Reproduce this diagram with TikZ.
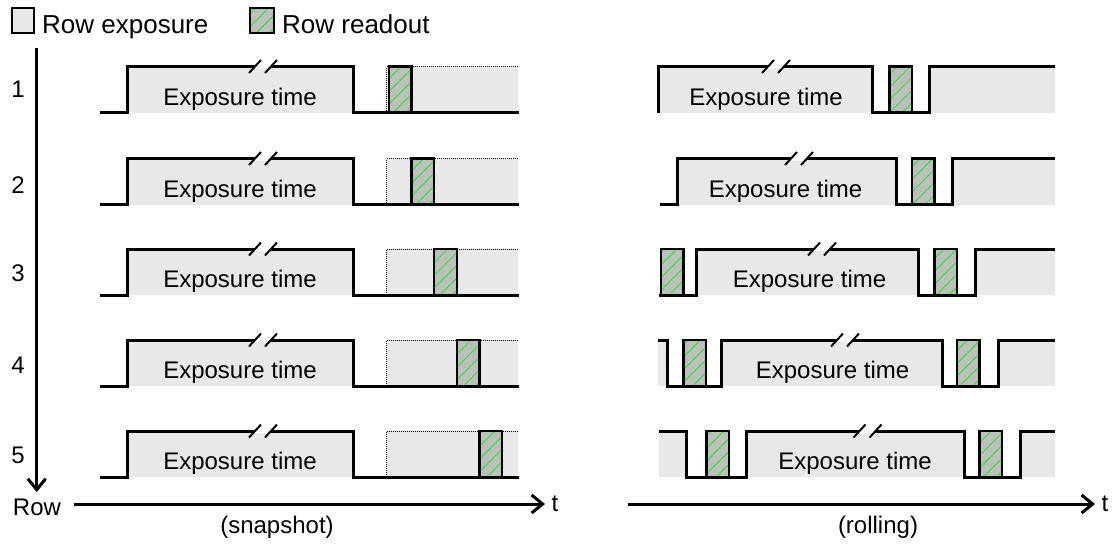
\documentclass[tikz,border=0pt]{standalone}
\usepackage{fontspec}
\setmainfont{Liberation Sans}
\usetikzlibrary{arrows.meta,patterns.meta}
\definecolor{expoGray}{RGB}{232,232,232}
\definecolor{readGray}{RGB}{190,190,190}
\definecolor{hatchGreen}{RGB}{40,235,40}

\begin{document}
\begin{tikzpicture}[x=1pt,y=-1pt]
  \tikzstyle{every node}=[font=\fontsize{24}{28}\selectfont, inner sep=0pt]
  \tikzstyle{legend}=[anchor=base west, font=\fontsize{26}{30}\selectfont]
  \tikzstyle{wave}=[line width=3pt, line join=miter]
  \tikzstyle{expo}=[fill=expoGray]
  \tikzstyle{readbox}=[preaction={fill=readGray}, pattern={Lines[angle=45,distance=9pt,line width=1pt]}, pattern color=hatchGreen, draw=black, line width=2.5pt]
  \tikzstyle{window}=[densely dotted, line width=1pt]
  \tikzstyle{axis}=[line width=3pt, -{Straight Barb[length=11pt,width=18pt]}]
  \tikzset{brk/.pic={
      \fill[white] (-9.85,2) -- (-6.15,-2) -- (9.85,-2) -- (6.15,2) -- cycle;
      \draw[line width=2pt] (-14,6.5) -- (-2,-6.5) (2,6.5) -- (14,-6.5);
  }}
  \useasboundingbox (0,0) rectangle (1115,544);

  % legend
  \draw[expo, draw=black, line width=2pt] (12,8) rectangle (34,33);
  \node[legend] (lgExp) at (42,33) {Row exposure};
  \draw[readbox, line width=2pt] (250,8) rectangle (274,33);
  \node[legend] (lgRead) at (282,33) {Row readout};

  % axes
  \coordinate (rowTop) at (36.7,48);
  \coordinate (rowEnd) at (36.7,492);
  \draw[axis] (rowTop) -- (rowEnd);
  \node (rowLbl) at (37,507) {Row};
  \foreach \r/\y in {1/89,2/185,3/273,4/365,5/455}
    \node (rl\r) at (18,\y) {\r};

  \coordinate (snapT0) at (74,504);
  \coordinate (snapT1) at (545,504);
  \draw[axis] (snapT0) -- (snapT1);
  \node[anchor=west, xshift=6.5pt] (snapT) at (snapT1) {t};
  \node (snapCap) at (277,527) {(snapshot)};

  \coordinate (rollT0) at (628,504);
  \coordinate (rollT1) at (1095,504);
  \draw[axis] (rollT0) -- (rollT1);
  \node[anchor=west, xshift=6.5pt] (rollT) at (rollT1) {t};
  \node (rollCap) at (878,527) {(rolling)};

  % snapshot rows
  \foreach \r/\t in {1/66.5,2/158.5,3/249,4/340,5/431}{
    \pgfmathsetmacro\b{\t+46}
    \pgfmathsetmacro\ro{389+22.6*(\r-1)}
    \fill[expo] (127,\t) rectangle (353,\b);
    \fill[expo] (386.7,\t) rectangle (518,\b);
    \draw[window] (386.7,\b) -- (386.7,\t) -- (518,\t);
    \draw[readbox] (\ro,\t) rectangle ++(22.6,46);
    \draw[wave] (100,\b) -- (127,\b) -- (127,\t) -- (353,\t) -- (353,\b) -- (519,\b);
    \node[anchor=base] (snapE\r) at (240,\t+38.5) {Exposure time};
    \pic at (263,\t) {brk};
  }

  % rolling rows
  \fill[expo] (658,66.5) rectangle (872,112.5);
  \fill[expo] (929,66.5) rectangle (1055,112.5);
  \draw[readbox] (889.3,66.5) rectangle ++(22.5,46);
  \draw[wave] (658,112.5) -- (658,66.5) -- (872,66.5) -- (872,112.5) -- (929,112.5) -- (929,66.5) -- (1055,66.5);
  \node[anchor=base] (rollE1) at (766,105) {Exposure time};
  \pic at (776,66.5) {brk};

  \fill[expo] (677,158.5) rectangle (896,204.5);
  \fill[expo] (952,158.5) rectangle (1055,204.5);
  \draw[readbox] (911.8,158.5) rectangle ++(22.5,46);
  \draw[wave] (660,204.5) -- (677,204.5) -- (677,158.5) -- (896,158.5) -- (896,204.5) -- (952,204.5) -- (952,158.5) -- (1055,158.5);
  \node[anchor=base] (rollE2) at (785.5,197) {Exposure time};
  \pic at (799,158.5) {brk};

  \fill[expo] (696,249) rectangle (918,295);
  \fill[expo] (975,249) rectangle (1055,295);
  \draw[readbox] (660.8,249) rectangle ++(22.5,46);
  \draw[readbox] (934.3,249) rectangle ++(22.5,46);
  \draw[wave] (659,295) -- (696,295) -- (696,249) -- (918,249) -- (918,295) -- (975,295) -- (975,249) -- (1055,249);
  \node[anchor=base] (rollE3) at (809.5,287.5) {Exposure time};
  \pic at (822,249) {brk};

  \fill[expo] (658,340) rectangle (667,386);
  \fill[expo] (721,340) rectangle (942,386);
  \fill[expo] (998,340) rectangle (1055,386);
  \draw[readbox] (683.3,340) rectangle ++(22.5,46);
  \draw[readbox] (956.8,340) rectangle ++(22.5,46);
  \draw[wave] (658,340) -- (667,340) -- (667,386) -- (721,386) -- (721,340) -- (942,340) -- (942,386) -- (998,386) -- (998,340) -- (1055,340);
  \node[anchor=base] (rollE4) at (832.5,378.5) {Exposure time};
  \pic at (845,340) {brk};

  \fill[expo] (659,431) rectangle (686,477);
  \fill[expo] (746,431) rectangle (964,477);
  \fill[expo] (1020,431) rectangle (1055,477);
  \draw[readbox] (706.7,431) rectangle ++(22.5,46);
  \draw[readbox] (979.3,431) rectangle ++(22.5,46);
  \draw[wave] (659,431) -- (686,431) -- (686,477) -- (746,477) -- (746,431) -- (964,431) -- (964,477) -- (1020,477) -- (1020,431) -- (1055,431);
  \node[anchor=base] (rollE5) at (855,469.5) {Exposure time};
  \pic at (867.5,431) {brk};

\end{tikzpicture}
\end{document}
